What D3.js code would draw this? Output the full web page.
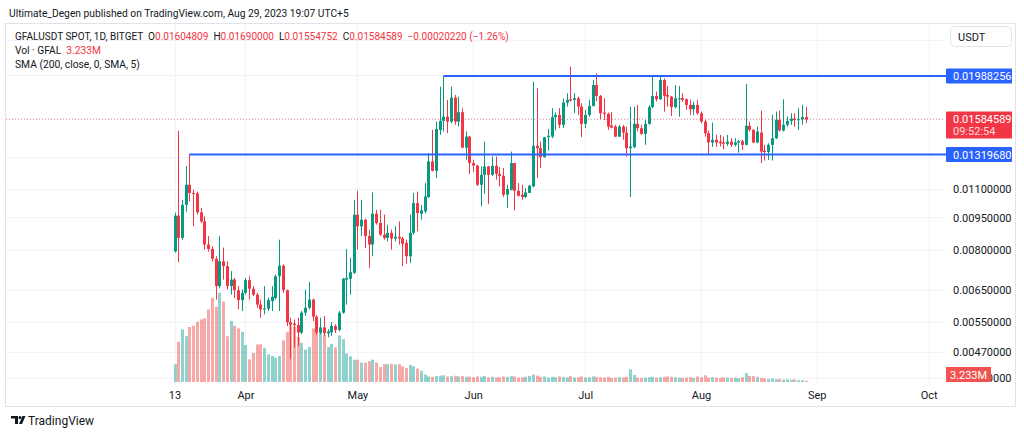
<!DOCTYPE html>
<html><head><meta charset="utf-8">
<script src="https://cdn.jsdelivr.net/npm/d3@7"></script>
<style>
body{margin:0;background:#fff}
svg{display:block;font-family:Roboto,"Liberation Sans",sans-serif}
</style>
</head><body>
<svg id="chart" width="1024" height="437"></svg>
<script>
// ---------- DATA ----------
const startDate = "2023-03-13"; // first daily candle, one candle per day
const open = [
.00796,.00959,.00854,.01015,.01127,.01080,.01077,.00976,.00931,.00825,
.00806,.00766,.00664,.00756,.00737,.00664,.00687,.00650,.00617,.00641,
.00685,.00655,.00635,.00603,.00588,.00590,.00614,.00624,.00699,.00739,
.00650,.00550,.00546,.00542,.00521,.00578,.00593,.00619,.00566,.00521,
.00535,.00519,.00522,.00539,.00528,.00578,.00687,.00690,.00712,.00964,
.00907,.00939,.00862,.00825,.00969,.00923,.00869,.00854,.00877,.00851,
.00859,.00851,.00832,.00776,.00877,.01024,.00969,.00981,.01057,.01273,
.01212,.01501,.01573,.01608,.01567,.01776,.01567,.01646,.01368,.01449,
.01262,.01246,.01127,.01187,.01240,.01187,.01244,.01193,.01181,.01070,
.01098,.01262,.01092,.01070,.01057,.01080,.01117,.01381,.01364,.01302,
.01445,.01449,.01604,.01623,.01541,.01731,.01761,.01755,.01770,.01695,
.01549,.01623,.01701,.01897,.01792,.01643,.01632,.01535,.01527,.01449,
.01527,.01480,.01364,.01371,.01549,.01514,.01470,.01549,.01690,.01792,
.01761,.01947,.01801,.01785,.01690,.01764,.01770,.01761,.01710,.01672,
.01710,.01637,.01567,.01475,.01405,.01425,.01412,.01405,.01395,.01412,
.01388,.01405,.01415,.01388,.01533,.01501,.01405,.01480,.01347,.01337,
.01388,.01437,.01581,.01496,.01541,.01573,.01592,.01581,.01587,.01604809];
const high = [
.00974,.01493,.01042,.01244,.01320,.01098,.01088,.00999,.00956,.00862,
.00818,.00776,.00862,.00812,.00756,.00718,.00693,.00664,.00652,.00693,
.00699,.00664,.00641,.00619,.00664,.00625,.00664,.00705,.00846,.00743,
.00652,.00563,.00558,.00563,.00583,.00652,.00678,.00622,.00570,.00563,
.00568,.00530,.00550,.00544,.00583,.00693,.00806,.00770,.01042,.01092,
.01042,.00944,.00892,.01083,.00989,.00989,.00964,.00915,.00892,.00907,
.00931,.00859,.00846,.00964,.01080,.01088,.01015,.01137,.01329,.01501,
.01567,.01881,.01988256,.01755,.01881,.01801,.01785,.01681,.01488,.01454,
.01284,.01251,.01240,.01412,.01244,.01306,.01306,.01236,.01229,.01127,
.01340,.01264,.01137,.01127,.01107,.01127,.01930,.01865,.01412,.01447,
.01507,.01681,.01643,.01681,.01770,.01817,.02088,.01817,.01785,.01725,
.01666,.01755,.01947,.02017,.01801,.01770,.01643,.01648,.01541,.01541,
.01541,.01527,.01695,.01695,.01710,.01541,.01581,.01710,.01990,.01833,
.01990,.01964,.01887,.01792,.01897,.01887,.01817,.01770,.01755,.01740,
.01755,.01651,.01581,.01496,.01560,.01462,.01462,.01449,.01462,.01437,
.01437,.01425,.01425,.01907,.01567,.01507,.01527,.01660,.01388,.01400,
.01623,.01651,.01660,.01761,.01608,.01637,.01637,.01681,.01710,.01690000];
const low = [
.00791,.00752,.00846,.00979,.01033,.00907,.00964,.00923,.00803,.00796,
.00755,.00619,.00656,.00687,.00652,.00635,.00624,.00588,.00583,.00635,
.00619,.00630,.00593,.00563,.00573,.00583,.00583,.00619,.00583,.00641,
.00539,.00454,.00482,.00486,.00516,.00568,.00588,.00553,.00516,.00516,
.00512,.00508,.00512,.00520,.00525,.00575,.00603,.00635,.00708,.00803,
.00862,.00810,.00730,.00776,.00915,.00862,.00846,.00839,.00803,.00839,
.00825,.00737,.00747,.00750,.00869,.00884,.00939,.00972,.01052,.01208,
.01167,.01462,.01488,.01475,.01554,.01541,.01527,.01364,.01284,.01193,
.01205,.01120,.01006,.01076,.01020,.01180,.01157,.01117,.01057,.00998,
.01094,.00986,.01060,.01042,.01052,.01080,.01113,.01167,.01229,.01298,
.01347,.01437,.01496,.01514,.01514,.01695,.01740,.01637,.01623,.01445,
.01514,.01608,.01695,.01745,.01587,.01581,.01501,.01514,.01445,.01447,
.01425,.01306,.01057,.01364,.01488,.01462,.01388,.01541,.01681,.01740,
.01755,.01651,.01695,.01614,.01681,.01608,.01740,.01666,.01623,.01623,
.01623,.01554,.01449,.01324,.01373,.01373,.01376,.01357,.01381,.01373,
.01376,.01333,.01352,.01385,.01488,.01400,.01400,.01262,.01279,.01284,
.01279,.01430,.01488,.01488,.01527,.01541,.01527,.01501,.01541,.01554752];
const close = [
.00959,.00854,.01015,.01127,.01080,.01077,.00976,.00931,.00825,.00806,
.00766,.00664,.00756,.00737,.00664,.00687,.00650,.00617,.00641,.00685,
.00655,.00635,.00603,.00588,.00591,.00617,.00628,.00699,.00739,.00650,
.00550,.00544,.00542,.00521,.00578,.00593,.00619,.00566,.00521,.00535,
.00519,.00524,.00539,.00528,.00578,.00690,.00693,.00714,.00964,.00907,
.00939,.00862,.00825,.00969,.00923,.00869,.00854,.00877,.00851,.00859,
.00851,.00828,.00776,.00877,.01024,.00972,.00986,.01060,.01273,.01212,
.01507,.01573,.01608,.01567,.01776,.01567,.01646,.01368,.01449,.01262,
.01246,.01127,.01187,.01240,.01187,.01244,.01193,.01181,.01070,.01102,
.01262,.01092,.01064,.01057,.01083,.01121,.01381,.01364,.01302,.01445,
.01455,.01604,.01623,.01541,.01731,.01755,.01749,.01770,.01695,.01549,
.01623,.01701,.01897,.01792,.01637,.01632,.01527,.01519,.01449,.01527,
.01480,.01364,.01376,.01549,.01514,.01470,.01549,.01690,.01792,.01761,
.01947,.01792,.01785,.01690,.01770,.01770,.01755,.01710,.01672,.01710,
.01637,.01567,.01475,.01405,.01425,.01405,.01400,.01395,.01412,.01388,
.01405,.01415,.01388,.01533,.01501,.01405,.01488,.01340,.01337,.01388,
.01437,.01581,.01496,.01541,.01573,.01592,.01581,.01587,.01604809,.01584589];
// volume in millions of GFAL
const volume = [
48,108,141,123,148,151,162,168,171,195,
226,202,240,216,123,164,151,144,135,99,
61,78,101,101,92,74,70,65,70,112,
135,157,148,121,105,87,94,144,175,144,
126,94,102,93,125,115,77,69,60,60,
52,52,56,60,52,40,48,48,49,47,
48,42,38,46,42,36,30,20,15,14,
16,17,18,15,16,17,15,16,14,15,
13,15,14,16,13,14,12,13,15,14,
16,15,12,13,14,16,20,17,14,15,
12,14,13,15,14,13,16,12,13,15,
12,13,15,14,13,12,14,11,12,13,
12,14,34,19,12,11,12,13,14,12,
13,14,15,14,13,12,11,12,13,11,
15,13,18,12,13,12,11,13,12,11,
12,10,13,24,16,16,14,11,10,8,
9,7,8,6,7,6,7,5,5,3.233];

const priceGridTicks = [0.024, 0.020, 0.016, 0.013, 0.011, 0.0095, 0.008, 0.0065, 0.0055, 0.0047, 0.0041];
const priceLabelTicks = [0.011, 0.0095, 0.008, 0.0065, 0.0055, 0.0047, 0.0041];
const timeTicks = ["2023-03-13","2023-04-01","2023-05-01","2023-06-01","2023-07-01","2023-08-01","2023-09-01","2023-10-01"];
const timeTickLabels = ["13","Apr","May","Jun","Jul","Aug","Sep","Oct"];
const levelValues = [0.01988256, 0.01319680];
const levelStarts = ["2023-05-24", "2023-03-17"];
const countdown = "09:52:54";

// ---------- SETUP ----------
const svg = d3.select("#chart");
const UP = "#089981", DOWN = "#f23645", BLUE = "#2962ff", TXT = "#131722";
const plotL = 5, plotR = 945, plotT = 23, plotB = 385;

const dates = d3.range(open.length).map(i => d3.utcDay.offset(new Date(startDate), i));
const x = d3.scaleUtc().domain([dates[0], dates[dates.length-1]]).range([174.5, 805.5]);
const y = d3.scaleLog().domain([0.01988256, 0.0047]).range([76, 352.3]);
const yv = d3.scaleLinear().domain([0, 240]).range([382, 292.7]);
const fmt = d3.format(".8f");

// shrink a text's font so that it spans the given width
function fit(sel, w){
  const fs = +sel.attr("font-size");
  const cur = sel.node().getComputedTextLength();
  if (cur > 0) sel.attr("font-size", (fs * w / cur).toFixed(2));
  return sel;
}

svg.append("rect").attr("width",1024).attr("height",437).attr("fill","#fff");

// header
fit(svg.append("text").attr("x",9).attr("y",17).attr("font-size",11).attr("fill",TXT)
  .text("Ultimate_Degen published on TradingView.com, Aug 29, 2023 19:07 UTC+5"), 340);

// frame
svg.append("rect").attr("x",5.5).attr("y",23.5).attr("width",1010).attr("height",383)
  .attr("fill","none").attr("stroke","#e0e3eb");

// grid
const grid = svg.append("g");
grid.selectAll("line.h").data(priceGridTicks).join("line")
  .attr("x1",plotL+1).attr("x2",plotR).attr("y1",d=>Math.round(y(d))+0.5).attr("y2",d=>Math.round(y(d))+0.5)
  .attr("stroke","#f0f3fa");
grid.selectAll("line.v").data(timeTicks).join("line")
  .attr("x1",d=>Math.round(x(new Date(d)))+0.5).attr("x2",d=>Math.round(x(new Date(d)))+0.5)
  .attr("y1",plotT+1).attr("y2",plotB).attr("stroke","#f0f3fa");

const idx = d3.range(open.length);
const cx = i => Math.round(x(dates[i]));
const isUp = i => close[i] >= open[i];

// volume
svg.append("g").selectAll("rect").data(idx).join("rect")
  .attr("x",i=>cx(i)-1).attr("width",3)
  .attr("y",i=>yv(volume[i])).attr("height",i=>Math.max(0.8, yv(0)-yv(volume[i])))
  .attr("fill",i=>isUp(i)?"rgba(38,166,154,0.5)":"rgba(239,83,80,0.5)");

// last price dotted line
const lpY = Math.round(y(close[close.length-1])) + 0.5;
svg.append("line").attr("x1",plotL+1).attr("x2",plotR)
  .attr("y1",lpY).attr("y2",lpY)
  .attr("stroke",DOWN).attr("stroke-dasharray","1,2").attr("opacity",0.55);

// candles
const cg = svg.append("g");
cg.selectAll("line").data(idx).join("line")
  .attr("x1",i=>cx(i)+0.5).attr("x2",i=>cx(i)+0.5)
  .attr("y1",i=>y(high[i])).attr("y2",i=>y(low[i]))
  .attr("stroke",i=>isUp(i)?UP:DOWN).attr("stroke-width",1);
cg.selectAll("rect").data(idx).join("rect")
  .attr("x",i=>cx(i)-1).attr("width",3)
  .attr("y",i=>y(Math.max(open[i],close[i])))
  .attr("height",i=>Math.max(1, Math.abs(y(open[i])-y(close[i]))))
  .attr("fill",i=>isUp(i)?UP:DOWN);

// horizontal levels
svg.append("g").selectAll("line").data(levelValues).join("line")
  .attr("x1",(d,i)=>x(new Date(levelStarts[i]))).attr("x2",plotR+1)
  .attr("y1",d=>y(d)).attr("y2",d=>y(d))
  .attr("stroke",BLUE).attr("stroke-width",2);

// price axis
const ya = svg.append("g").attr("transform",`translate(${plotR},0)`)
  .call(d3.axisRight(y).tickValues(priceLabelTicks).tickFormat(fmt).tickSize(0).tickPadding(8));
ya.select(".domain").remove();
ya.selectAll("text").attr("font-size",11).attr("fill",TXT).attr("font-family","Roboto,'Liberation Sans',sans-serif");

// time axis
const xa = svg.append("g").attr("transform",`translate(0,${plotB})`)
  .call(d3.axisBottom(x).tickValues(timeTicks.map(d=>new Date(d))).tickFormat((d,i)=>timeTickLabels[i]).tickSize(0).tickPadding(6));
xa.select(".domain").remove();
xa.selectAll("text").attr("font-size",11).attr("fill",TXT).attr("font-family","Roboto,'Liberation Sans',sans-serif");

// level labels
levelValues.forEach(v=>{
  const yy = y(v);
  svg.append("rect").attr("x",946).attr("y",yy-7.5).attr("width",66).attr("height",15).attr("rx",1).attr("fill",BLUE);
  svg.append("text").attr("x",953).attr("y",yy+4).attr("font-size",11).attr("fill","#fff").text(fmt(v));
});

// last price label
const lp = close[close.length-1], ly = y(lp);
svg.append("rect").attr("x",946).attr("y",ly-8).attr("width",66).attr("height",27).attr("rx",1).attr("fill",DOWN);
svg.append("text").attr("x",953).attr("y",ly+4).attr("font-size",11).attr("fill","#fff").text(fmt(lp));
svg.append("text").attr("x",953).attr("y",ly+16).attr("font-size",11).attr("fill","#fff").attr("opacity",0.8).text(countdown);

// volume label
const lv = volume[volume.length-1];
svg.append("rect").attr("x",946).attr("y",367).attr("width",45).attr("height",15).attr("fill","#f05350");
svg.append("text").attr("x",968.5).attr("y",378.5).attr("text-anchor","middle").attr("font-size",11).attr("fill","#fff")
  .text(d3.format(".3f")(lv)+"M");

// USDT button
svg.append("rect").attr("x",950.5).attr("y",26.5).attr("width",61).attr("height",20).attr("rx",4)
  .attr("fill","#fff").attr("stroke","#e0e3eb");
svg.append("text").attr("x",958).attr("y",40.5).attr("font-size",11).attr("fill",TXT).text("USDT");

// legend
const n = close.length;
const chg = close[n-1]-close[n-2], pct = chg/close[n-2]*100;
const minus = s => s.replace("-","\u2212");
const leg = svg.append("text").attr("x",15).attr("y",40).attr("font-size",11).attr("fill",TXT)
  .style("white-space","pre");
const parts = [
  ["GFALUSDT SPOT, 1D, BITGET  O",TXT],[fmt(open[n-1]),DOWN],["  H",TXT],[fmt(high[n-1]),DOWN],
  ["  L",TXT],[fmt(low[n-1]),DOWN],["  C",TXT],[fmt(close[n-1]),DOWN],
  ["  "+minus(fmt(chg))+" ("+minus(d3.format(".2f")(pct))+"%)",DOWN]];
parts.forEach(p=>leg.append("tspan").attr("fill",p[1]).text(p[0]));
fit(leg, 494);
const leg2 = svg.append("text").attr("x",15).attr("y",54).attr("font-size",11).attr("fill",TXT).style("white-space","pre");
leg2.append("tspan").text("Vol \u00b7 GFAL  ");
leg2.append("tspan").attr("fill",DOWN).text(d3.format(".3f")(lv)+"M");
fit(leg2, 86);
fit(svg.append("text").attr("x",15).attr("y",68).attr("font-size",11).attr("fill",TXT).text("SMA (200, close, 0, SMA, 5)"), 125);

// footer logo
const logo = svg.append("g").attr("fill",TXT);
logo.append("path").attr("d","M11 416h7v8h-3v-5.5h-4z");
logo.append("circle").attr("cx",20).attr("cy",417.5).attr("r",1.5);
logo.append("path").attr("d","M22.5 416h3l-3.5 8h-3z");
svg.append("text").attr("x",28).attr("y",424.5).attr("font-size",12).attr("fill",TXT).text("TradingView");
</script>
</body></html>
